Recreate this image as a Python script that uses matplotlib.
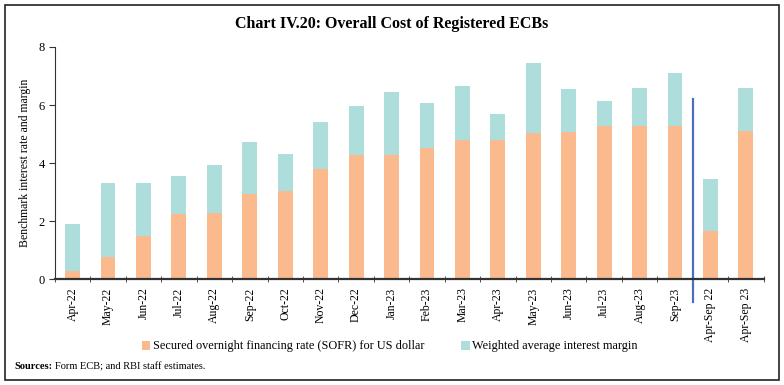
import matplotlib.pyplot as plt
from matplotlib.patches import Rectangle

months = ['Apr-22', 'May-22', 'Jun-22', 'Jul-22', 'Aug-22', 'Sep-22', 'Oct-22',
          'Nov-22', 'Dec-22', 'Jan-23', 'Feb-23', 'Mar-23', 'Apr-23', 'May-23',
          'Jun-23', 'Jul-23', 'Aug-23', 'Sep-23', 'Apr-Sep 22', 'Apr-Sep 23']
sofr = [0.29, 0.75, 1.49, 2.23, 2.27, 2.92, 3.03, 3.78, 4.27, 4.27,
        4.51, 4.81, 4.79, 5.02, 5.06, 5.27, 5.27, 5.27, 1.65, 5.12]
total = [1.91, 3.32, 3.30, 3.57, 3.92, 4.74, 4.30, 5.43, 5.97, 6.46,
         6.08, 6.67, 5.70, 7.46, 6.56, 6.15, 6.60, 7.11, 3.46, 6.60]
margin = [t - s for t, s in zip(total, sofr)]

plt.rcParams['font.family'] = ['Liberation Serif', 'DejaVu Serif']

fig = plt.figure(figsize=(7.84, 3.85), dpi=100)
ax = fig.add_axes([0.070, 0.275, 0.904, 0.603])

x = list(range(len(months)))
ax.bar(x, sofr, width=0.42, color='#FBB98E',
       label='Secured overnight financing rate (SOFR) for US dollar')
ax.bar(x, margin, width=0.42, bottom=sofr, color='#AEDEDB',
       label='Weighted average interest margin')

# separator between monthly and half-yearly bars
ax.plot([17.5, 17.5], [6.22, -0.78], color='#4A6FBF', lw=1.6, clip_on=False)

ax.set_xlim(-0.5, len(months) - 0.5)
ax.set_ylim(0, 8)
ax.set_yticks([0, 2, 4, 6, 8])
ax.set_xticks(x)
ax.set_xticklabels(months, rotation=90, fontsize=8.5)
ax.tick_params(axis='x', length=0, pad=6)
bounds = [i + 0.5 for i in range(-1, len(months)) if i != 17]
ax.set_xticks(bounds, minor=True)
ax.tick_params(axis='x', which='minor', length=4, direction='inout', color='#333333')
ax.tick_params(axis='y', labelsize=9, length=4, color='#333333', pad=3)
ax.set_ylabel('Benchmark interest rate and margin', fontsize=8.5, labelpad=6)

for s in ['top', 'right']:
    ax.spines[s].set_visible(False)
ax.spines['bottom'].set_linewidth(1.6)
ax.spines['bottom'].set_color('#333333')
ax.spines['left'].set_linewidth(0.8)
ax.spines['left'].set_color('#333333')

fig.text(0.5, 0.938, 'Chart IV.20: Overall Cost of Registered ECBs',
         ha='center', va='center', fontsize=11.5, fontweight='bold')

fig.legend(loc='center', bbox_to_anchor=(0.497, 0.10), ncol=2, frameon=False,
           fontsize=8.8, handlelength=0.7, handleheight=0.7, handletextpad=0.2,
           columnspacing=3.0)

# source note: bold label followed by plain text
src = fig.text(0.019, 0.048, 'Sources:', fontsize=7.5, va='center', fontweight='bold')
r = fig.canvas.get_renderer()
bb = src.get_window_extent(renderer=r)
fig.text(bb.x1 / fig.bbox.width + 0.003, 0.048, 'Form ECB; and RBI staff estimates.',
         fontsize=7.5, va='center')

fig.patches.append(Rectangle((0.006, 0.013), 0.988, 0.975, transform=fig.transFigure,
                             fill=False, edgecolor='#222222', lw=1.2))

fig.savefig('out.png', dpi=100)
